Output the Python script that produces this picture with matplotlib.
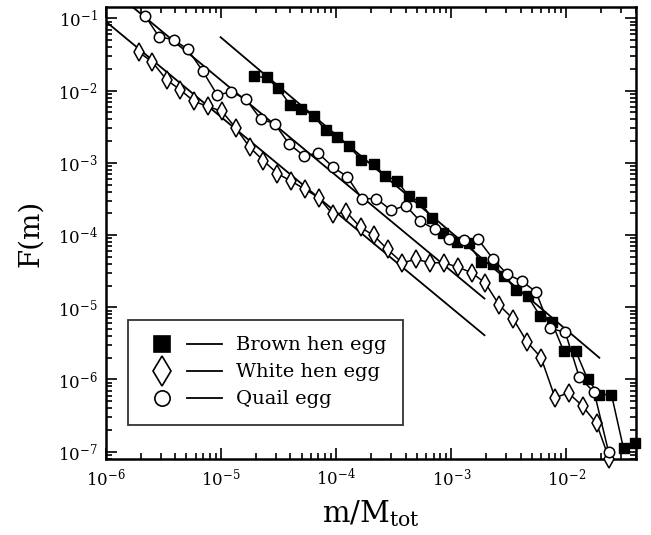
import numpy as np
import matplotlib
matplotlib.use("Agg")
import matplotlib.pyplot as plt
from matplotlib.lines import Line2D
from matplotlib.legend_handler import HandlerTuple
from matplotlib.ticker import NullFormatter

plt.rcParams['font.family'] = ['DejaVu Serif']
plt.rcParams['mathtext.fontset'] = 'dejavuserif'

# brown hen egg (filled squares)
brown_x = [1.92e-5, 2.48e-5, 3.12e-5, 4.00e-5, 4.98e-5, 6.37e-5, 8.09e-5, 1.022e-4,
           1.288e-4, 1.651e-4, 2.11e-4, 2.63e-4, 3.36e-4, 4.27e-4, 5.40e-4, 6.76e-4,
           8.54e-4, 1.113e-3, 1.416e-3, 1.81e-3, 2.29e-3, 2.89e-3, 3.65e-3, 4.60e-3,
           5.89e-3, 7.48e-3, 9.44e-3, 1.209e-2, 1.524e-2, 1.926e-2, 2.46e-2, 3.13e-2, 3.93e-2]
brown_y = [1.57e-2, 1.52e-2, 1.083e-2, 6.31e-3, 5.61e-3, 4.49e-3, 2.81e-3, 2.28e-3,
           1.69e-3, 1.107e-3, 9.75e-4, 6.65e-4, 5.68e-4, 3.44e-4, 2.85e-4, 1.73e-4,
           1.076e-4, 7.98e-5, 7.66e-5, 4.22e-5, 3.93e-5, 2.71e-5, 1.72e-5, 1.43e-5,
           7.59e-6, 6.15e-6, 2.49e-6, 2.44e-6, 1.013e-6, 6.18e-7, 6.18e-7, 1.11e-7, 1.30e-7]

# white hen egg (open diamonds)
white_x = [1.93e-6, 2.52e-6, 3.36e-6, 4.41e-6, 5.83e-6, 7.71e-6, 1.020e-5, 1.341e-5,
           1.774e-5, 2.33e-5, 3.08e-5, 4.08e-5, 5.40e-5, 7.08e-5, 9.36e-5, 1.224e-4,
           1.628e-4, 2.12e-4, 2.79e-4, 3.74e-4, 4.95e-4, 6.55e-4, 8.59e-4, 1.136e-3,
           1.503e-3, 1.977e-3, 2.61e-3, 3.46e-3, 4.54e-3, 6.01e-3, 7.95e-3, 1.043e-2,
           1.379e-2, 1.824e-2, 2.35e-2]
white_y = [3.40e-2, 2.50e-2, 1.41e-2, 1.026e-2, 7.07e-3, 6.03e-3, 5.14e-3, 3.03e-3,
           1.637e-3, 1.072e-3, 7.10e-4, 5.55e-4, 4.27e-4, 3.27e-4, 1.926e-4, 2.08e-4,
           1.274e-4, 9.87e-5, 6.32e-5, 4.14e-5, 4.60e-5, 4.14e-5, 4.14e-5, 3.60e-5,
           3.01e-5, 2.15e-5, 1.066e-5, 6.83e-6, 3.32e-6, 2.01e-6, 5.62e-7, 6.49e-7,
           4.29e-7, 2.46e-7, 7.95e-8]

# quail egg (open circles)
quail_x = [2.18e-6, 2.88e-6, 3.89e-6, 5.11e-6, 6.90e-6, 9.23e-6, 1.231e-5, 1.637e-5,
           2.20e-5, 2.92e-5, 3.89e-5, 5.22e-5, 7.00e-5, 9.36e-5, 1.248e-4, 1.671e-4,
           2.23e-4, 3.01e-4, 4.00e-4, 5.36e-4, 7.24e-4, 9.63e-4, 1.281e-3, 1.694e-3,
           2.29e-3, 3.05e-3, 4.08e-3, 5.44e-3, 7.24e-3, 9.76e-3, 1.291e-2, 1.742e-2, 2.32e-2]
quail_y = [0.109, 5.59e-2, 5.03e-2, 3.74e-2, 1.877e-2, 8.75e-3, 9.53e-3, 7.70e-3,
           4.04e-3, 3.48e-3, 1.824e-3, 1.257e-3, 1.352e-3, 8.78e-4, 6.39e-4, 3.17e-4,
           3.20e-4, 2.19e-4, 2.56e-4, 1.556e-4, 1.195e-4, 8.69e-5, 8.56e-5, 8.89e-5,
           4.71e-5, 2.86e-5, 2.31e-5, 1.63e-5, 5.08e-6, 4.52e-6, 1.08e-6, 6.64e-7, 1.00e-7]

# power-law fit lines (end points)
fit_brown_x = [9.9e-6, 1.93e-2]
fit_brown_y = [5.48e-2, 2.0e-6]
fit_white_x = [1.0e-6, 1.94e-3]
fit_white_y = [9.0e-2, 4.1e-6]
fit_quail_x = [1.0e-6, 1.94e-3]
fit_quail_y = [0.29, 1.32e-5]

labels = ['Brown hen egg', 'White hen egg', 'Quail egg']
xticks = [1e-6, 1e-5, 1e-4, 1e-3, 1e-2]
yticks = [1e-7, 1e-6, 1e-5, 1e-4, 1e-3, 1e-2, 1e-1]

fig = plt.figure(figsize=(6.51, 5.35), dpi=100)
ax = fig.add_axes([0.1628, 0.1415, 0.8142, 0.846])

for fx, fy in [(fit_brown_x, fit_brown_y), (fit_white_x, fit_white_y), (fit_quail_x, fit_quail_y)]:
    ax.plot(fx, fy, color='black', lw=1.3)

ax.plot(brown_x, brown_y, color='black', lw=1.1, marker='s', ms=6.5,
        mfc='black', mec='black', clip_on=False, zorder=3)
ax.plot(white_x, white_y, color='black', lw=1.1, marker='d', ms=9,
        mfc='white', mec='black', mew=1.1, clip_on=False, zorder=3)
ax.plot(quail_x, quail_y, color='black', lw=1.1, marker='o', ms=7.5,
        mfc='white', mec='black', mew=1.1, clip_on=False, zorder=3)

ax.set_xscale('log')
ax.set_yscale('log')
ax.set_xticks(xticks)
ax.set_yticks(yticks)
ax.set_xlim(1e-6, 0.0402)
ax.set_ylim(7.85e-8, 0.145)
ax.xaxis.set_minor_formatter(NullFormatter())
ax.yaxis.set_minor_formatter(NullFormatter())

ax.tick_params(which='both', direction='in', top=True, right=True, width=1.2)
ax.tick_params(which='major', length=8, labelsize=12, pad=6)
ax.tick_params(which='minor', length=4)
for s in ax.spines.values():
    s.set_linewidth(1.8)

ax.set_xlabel(r'$\mathrm{m/M_{tot}}$', fontsize=21, labelpad=6)
ax.set_ylabel('F(m)', fontsize=20, labelpad=10)

handles = []
for mk, fc, ms in [('s', 'black', 11), ('d', 'white', 15), ('o', 'white', 11)]:
    m = Line2D([], [], ls='none', marker=mk, ms=ms, mfc=fc, mec='black', mew=1.2)
    l = Line2D([], [], color='black', lw=1.3)
    handles.append((m, l))
leg = ax.legend(handles, labels, loc='upper left', bbox_to_anchor=(0.041, 0.308),
                borderaxespad=0, fontsize=14, frameon=True, fancybox=False,
                handlelength=4.0, handletextpad=0.7, labelspacing=0.46,
                borderpad=0.85, handler_map={tuple: HandlerTuple(ndivide=None, pad=0.4)})
leg.get_frame().set_edgecolor('black')
leg.get_frame().set_linewidth(1.3)

fig.savefig('out.png', dpi=100)
